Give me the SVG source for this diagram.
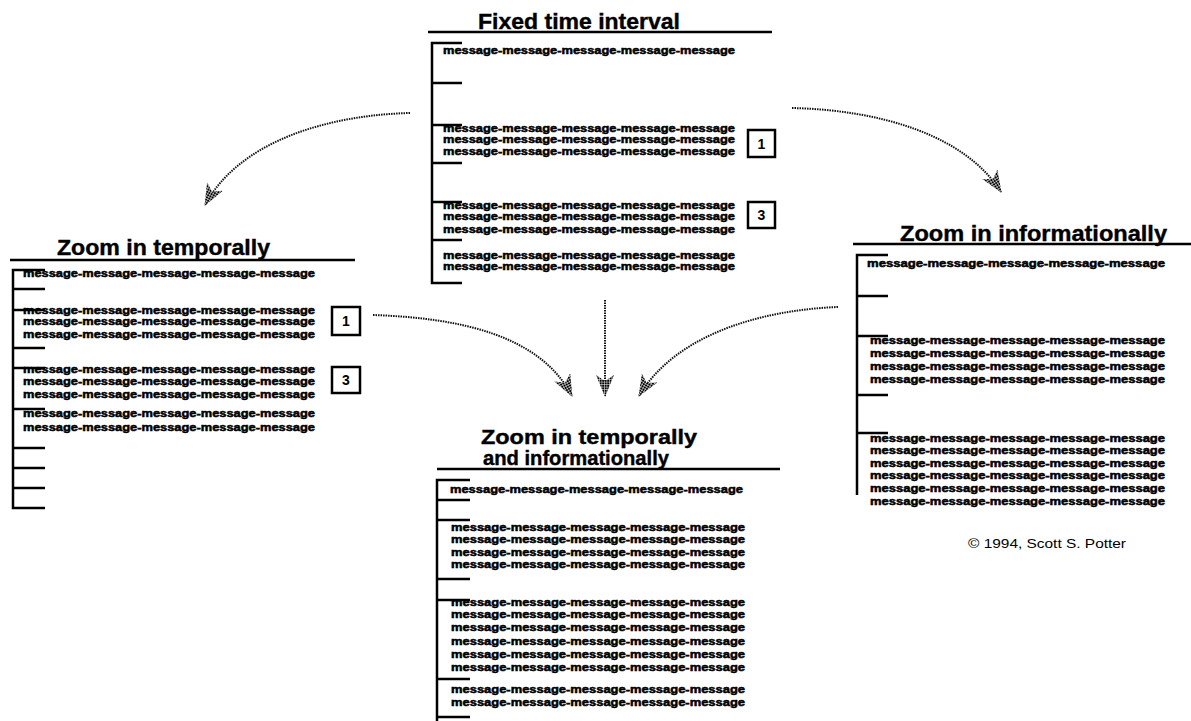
<svg xmlns="http://www.w3.org/2000/svg" width="1191" height="721" viewBox="0 0 1191 721">
<style>
.title{font-family:"Liberation Sans",Arial,sans-serif;font-weight:bold;font-size:22px;fill:#000;stroke:#000;stroke-width:0.4}
.msg{font-family:"Liberation Sans",Arial,sans-serif;font-weight:bold;font-size:11px;fill:#000;stroke:#000;stroke-width:0.5}
.num{font-family:"Liberation Sans",Arial,sans-serif;font-weight:bold;font-size:14px;fill:#000;text-anchor:middle}
.copy{font-family:"Liberation Sans",Arial,sans-serif;font-size:12px;fill:#000}
.rule{stroke:#000;stroke-width:2.5;fill:none}
.brk{stroke:#000;stroke-width:2.5;fill:none}
.box{stroke:#000;stroke-width:2.5;fill:#fff}
.conn{stroke:#111;stroke-width:2;fill:none;stroke-dasharray:1.5 1}
</style>
<defs>
<pattern id="dots" width="2.5" height="2.5" patternUnits="userSpaceOnUse">
<rect width="2.5" height="2.5" fill="#fff"/>
<rect width="2" height="2" fill="#000"/>
</pattern>
<marker id="ah" viewBox="0 0 22 18" refX="21" refY="9" markerWidth="22" markerHeight="18" markerUnits="userSpaceOnUse" orient="auto">
<polygon points="0,0 22,9 0,18 6,9" fill="url(#dots)"/>
</marker>
</defs>

<g id="connectors">
<path class="conn" d="M410,113 C330,115 240,140 205,205" marker-end="url(#ah)"/>
<path class="conn" d="M792,108 C880,110 965,135 1001,192" marker-end="url(#ah)"/>
<path class="conn" d="M373,315 C460,318 540,335 572,396" marker-end="url(#ah)"/>
<path class="conn" d="M605,300 L605,396" marker-end="url(#ah)"/>
<path class="conn" d="M838,307 C760,310 675,335 639,396" marker-end="url(#ah)"/>
</g>

<g id="fixed-time-interval">
<text class="title" x="478" y="29" textLength="202" lengthAdjust="spacingAndGlyphs">Fixed time interval</text>
<line class="rule" x1="428" y1="32" x2="772" y2="32"/>
<path class="brk" d="M462,43 H432 V283 H462 M432,83 H462 M432,125 H462 M432,163 H462 M432,202 H462 M432,240 H462"/>
<text class="msg" x="443" y="54" textLength="292" lengthAdjust="spacingAndGlyphs">message-message-message-message-message</text>
<text class="msg" x="443" y="132" textLength="292" lengthAdjust="spacingAndGlyphs">message-message-message-message-message</text>
<text class="msg" x="443" y="143" textLength="292" lengthAdjust="spacingAndGlyphs">message-message-message-message-message</text>
<text class="msg" x="443" y="155" textLength="292" lengthAdjust="spacingAndGlyphs">message-message-message-message-message</text>
<text class="msg" x="443" y="209" textLength="292" lengthAdjust="spacingAndGlyphs">message-message-message-message-message</text>
<text class="msg" x="443" y="220" textLength="292" lengthAdjust="spacingAndGlyphs">message-message-message-message-message</text>
<text class="msg" x="443" y="233" textLength="292" lengthAdjust="spacingAndGlyphs">message-message-message-message-message</text>
<text class="msg" x="443" y="259" textLength="292" lengthAdjust="spacingAndGlyphs">message-message-message-message-message</text>
<text class="msg" x="443" y="270" textLength="292" lengthAdjust="spacingAndGlyphs">message-message-message-message-message</text>
<rect class="box" x="748" y="130" width="27" height="27"/>
<text class="num" x="761.5" y="149">1</text>
<rect class="box" x="748" y="202" width="27" height="26"/>
<text class="num" x="761.5" y="220">3</text>
</g>

<g id="zoom-temporally">
<text class="title" x="57" y="255" textLength="213" lengthAdjust="spacingAndGlyphs">Zoom in temporally</text>
<line class="rule" x1="10" y1="260" x2="355" y2="260"/>
<path class="brk" d="M45,270 H13 V508 H45 M13,289 H45 M13,310 H45 M13,348 H45 M13,368 H45 M13,409 H45 M13,448 H45 M13,468 H45 M13,488 H45"/>
<text class="msg" x="23" y="277" textLength="292" lengthAdjust="spacingAndGlyphs">message-message-message-message-message</text>
<text class="msg" x="23" y="314" textLength="292" lengthAdjust="spacingAndGlyphs">message-message-message-message-message</text>
<text class="msg" x="23" y="325" textLength="292" lengthAdjust="spacingAndGlyphs">message-message-message-message-message</text>
<text class="msg" x="23" y="338" textLength="292" lengthAdjust="spacingAndGlyphs">message-message-message-message-message</text>
<text class="msg" x="23" y="373" textLength="292" lengthAdjust="spacingAndGlyphs">message-message-message-message-message</text>
<text class="msg" x="23" y="385" textLength="292" lengthAdjust="spacingAndGlyphs">message-message-message-message-message</text>
<text class="msg" x="23" y="398" textLength="292" lengthAdjust="spacingAndGlyphs">message-message-message-message-message</text>
<text class="msg" x="23" y="417" textLength="292" lengthAdjust="spacingAndGlyphs">message-message-message-message-message</text>
<text class="msg" x="23" y="431" textLength="292" lengthAdjust="spacingAndGlyphs">message-message-message-message-message</text>
<rect class="box" x="332" y="307" width="28" height="28"/>
<text class="num" x="346" y="326">1</text>
<rect class="box" x="332" y="367" width="28" height="26"/>
<text class="num" x="346" y="385">3</text>
</g>

<g id="zoom-informationally">
<text class="title" x="900" y="241" textLength="267" lengthAdjust="spacingAndGlyphs">Zoom in informationally</text>
<line class="rule" x1="853" y1="244" x2="1191" y2="244"/>
<path class="brk" d="M888,255 H857 V495 M857,296 H888 M857,336 H888 M857,395 H888 M857,433 H888"/>
<text class="msg" x="867" y="267" textLength="298" lengthAdjust="spacingAndGlyphs">message-message-message-message-message</text>
<text class="msg" x="870" y="344" textLength="295" lengthAdjust="spacingAndGlyphs">message-message-message-message-message</text>
<text class="msg" x="870" y="357" textLength="295" lengthAdjust="spacingAndGlyphs">message-message-message-message-message</text>
<text class="msg" x="870" y="370" textLength="295" lengthAdjust="spacingAndGlyphs">message-message-message-message-message</text>
<text class="msg" x="870" y="383" textLength="295" lengthAdjust="spacingAndGlyphs">message-message-message-message-message</text>
<text class="msg" x="870" y="442" textLength="295" lengthAdjust="spacingAndGlyphs">message-message-message-message-message</text>
<text class="msg" x="870" y="454" textLength="295" lengthAdjust="spacingAndGlyphs">message-message-message-message-message</text>
<text class="msg" x="870" y="467" textLength="295" lengthAdjust="spacingAndGlyphs">message-message-message-message-message</text>
<text class="msg" x="870" y="479" textLength="295" lengthAdjust="spacingAndGlyphs">message-message-message-message-message</text>
<text class="msg" x="870" y="492" textLength="295" lengthAdjust="spacingAndGlyphs">message-message-message-message-message</text>
<text class="msg" x="870" y="505" textLength="295" lengthAdjust="spacingAndGlyphs">message-message-message-message-message</text>
</g>

<g id="zoom-both">
<text class="title" x="481" y="444" textLength="216" lengthAdjust="spacingAndGlyphs" style="font-size:20px">Zoom in temporally</text>
<text class="title" x="483" y="465" textLength="186" lengthAdjust="spacingAndGlyphs" style="font-size:20px">and informationally</text>
<line class="rule" x1="437" y1="469" x2="780" y2="469"/>
<path class="brk" d="M470,480 H437 V721 M437,500 H470 M437,520 H470 M437,579 H470 M437,600 H470 M437,679 H470 M437,717 H470"/>
<text class="msg" x="450" y="493" textLength="293" lengthAdjust="spacingAndGlyphs">message-message-message-message-message</text>
<text class="msg" x="451" y="531" textLength="294" lengthAdjust="spacingAndGlyphs">message-message-message-message-message</text>
<text class="msg" x="451" y="543" textLength="294" lengthAdjust="spacingAndGlyphs">message-message-message-message-message</text>
<text class="msg" x="451" y="556" textLength="294" lengthAdjust="spacingAndGlyphs">message-message-message-message-message</text>
<text class="msg" x="451" y="568" textLength="294" lengthAdjust="spacingAndGlyphs">message-message-message-message-message</text>
<text class="msg" x="451" y="606" textLength="294" lengthAdjust="spacingAndGlyphs">message-message-message-message-message</text>
<text class="msg" x="451" y="618" textLength="294" lengthAdjust="spacingAndGlyphs">message-message-message-message-message</text>
<text class="msg" x="451" y="631" textLength="294" lengthAdjust="spacingAndGlyphs">message-message-message-message-message</text>
<text class="msg" x="451" y="645" textLength="294" lengthAdjust="spacingAndGlyphs">message-message-message-message-message</text>
<text class="msg" x="451" y="658" textLength="294" lengthAdjust="spacingAndGlyphs">message-message-message-message-message</text>
<text class="msg" x="451" y="671" textLength="294" lengthAdjust="spacingAndGlyphs">message-message-message-message-message</text>
<text class="msg" x="451" y="693" textLength="294" lengthAdjust="spacingAndGlyphs">message-message-message-message-message</text>
<text class="msg" x="451" y="706" textLength="294" lengthAdjust="spacingAndGlyphs">message-message-message-message-message</text>
</g>

<g id="copyright">
<text class="copy" x="968" y="548" textLength="158" lengthAdjust="spacingAndGlyphs">© 1994, Scott S. Potter</text>
</g>
</svg>
